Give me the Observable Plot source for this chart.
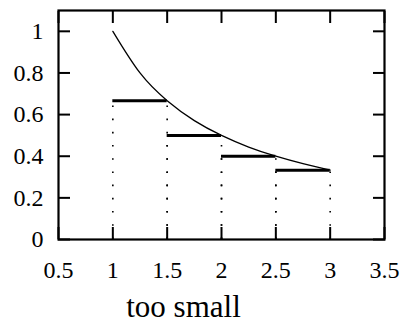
<!DOCTYPE html>
<html>
<head>
<meta charset="utf-8">
<script src="https://cdn.jsdelivr.net/npm/d3@7"></script>
<script src="https://cdn.jsdelivr.net/npm/@observablehq/plot@0.6"></script>
<style>
  html, body { margin: 0; padding: 0; background: #fff; }
  #chart svg text { font-family: 'Liberation Serif', 'DejaVu Serif', serif !important; }
  #chart svg g[aria-label="x-axis tick label"],
  #chart svg g[aria-label="y-axis tick label"] { font-size: 24px !important; }
  #chart svg g[aria-label="x-axis tick label"] text,
  #chart svg g[aria-label="y-axis tick label"] text { font-size: 24px !important; }
</style>
</head>
<body>
<div id="chart"></div>
<script>
const xTicks = [0.5, 1, 1.5, 2, 2.5, 3, 3.5];
const yTicks = [0, 0.2, 0.4, 0.6, 0.8, 1];
const stepLeft = [1, 1.5, 2, 2.5];
const stepRight = [1.5, 2, 2.5, 3];
const stepHeight = [0.667, 0.5, 0.4, 0.333];
const curveX = [1, 1.25, 1.5, 1.75, 2, 2.25, 2.5, 2.75, 3];
const curveY = [1, 0.8, 0.667, 0.571, 0.5, 0.444, 0.4, 0.364, 0.333];
const xLabel = "too small";

const steps = stepLeft.map((x1, i) => ({x1, x2: stepRight[i], h: stepHeight[i]}));
const curve = curveX.map((x, i) => ({x, y: curveY[i]}));
const serif = "'Liberation Serif', 'DejaVu Serif', serif";

const chart = Plot.plot({
  width: 402,
  height: 323,
  marginLeft: 58,
  marginRight: 18,
  marginTop: 10,
  marginBottom: 84,
  style: {fontFamily: serif, fontSize: "24px", color: "#000", background: "#fff"},
  x: {domain: [0.5, 3.5]},
  y: {domain: [0, 1.1]},
  marks: [
    Plot.ruleX(steps, {x: "x1", y1: 0, y2: "h", strokeWidth: 1.6, strokeDasharray: "1.6,11.6"}),
    Plot.ruleX(steps, {x: "x2", y1: 0, y2: "h", strokeWidth: 1.6, strokeDasharray: "1.6,11.6"}),
    Plot.ruleY(steps, {x1: "x1", x2: "x2", y: "h", strokeWidth: 3}),
    Plot.line(curve, {x: "x", y: "y", curve: "natural", strokeWidth: 1.3}),
    Plot.axisX(xTicks, {anchor: "bottom", tickSize: -12, tickFormat: () => "", strokeWidth: 2}),
    Plot.axisX(xTicks, {anchor: "top", tickSize: -12, tickFormat: () => "", strokeWidth: 2}),
    Plot.axisY(yTicks, {anchor: "left", tickSize: -12, tickFormat: () => "", strokeWidth: 2}),
    Plot.axisY(yTicks, {anchor: "right", tickSize: -12, tickFormat: () => "", strokeWidth: 2}),
    Plot.axisX(xTicks, {anchor: "bottom", tickSize: 0, tickPadding: 21, label: null, fontSize: 24, fontFamily: serif, tickFormat: d => String(d)}),
    Plot.axisY(yTicks, {anchor: "left", tickSize: 0, tickPadding: 15, label: null, fontSize: 24, fontFamily: serif, tickFormat: d => String(d)}),
    Plot.frame({strokeWidth: 2.2}),
    Plot.text([xLabel], {frameAnchor: "bottom", dx: -38, dy: 77, fontSize: 31, fontFamily: serif, lineAnchor: "bottom", letterSpacing: 1})
  ]
});
document.getElementById("chart").appendChild(chart);
</script>
</body>
</html>
